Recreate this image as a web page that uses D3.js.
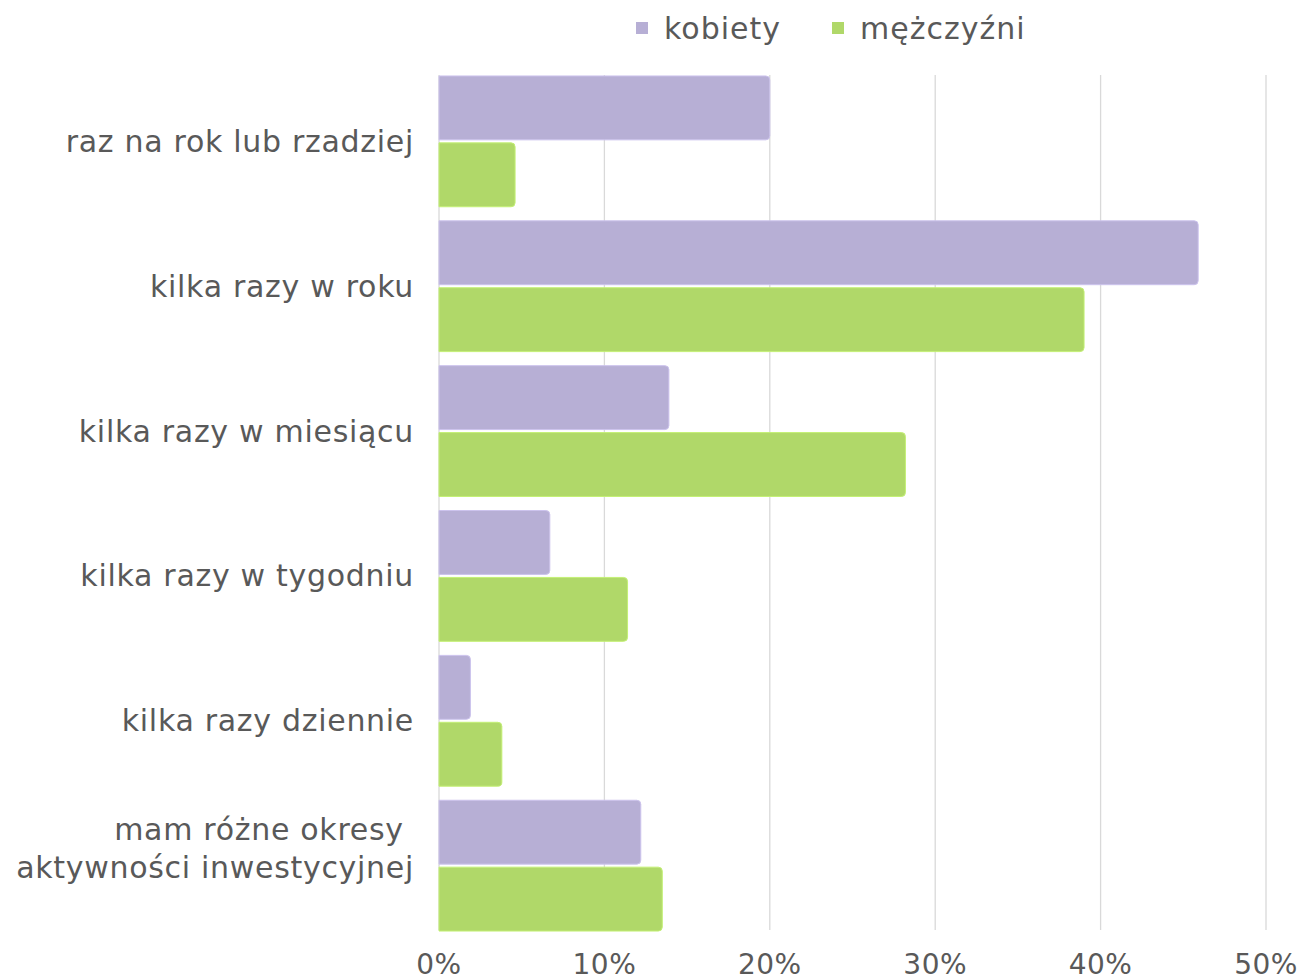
<!DOCTYPE html>
<html>
<head>
<meta charset="utf-8">
<script src="https://cdn.jsdelivr.net/npm/d3@7"></script>
<style>
  body { margin: 0; background: #fff; }
  svg text { font-family: "DejaVu Sans", sans-serif; fill: #595959; }
</style>
</head>
<body>
<script>
// data
const categories = [
  ["raz na rok lub rzadziej"],
  ["kilka razy w roku"],
  ["kilka razy w miesiącu"],
  ["kilka razy w tygodniu"],
  ["kilka razy dziennie"],
  ["mam różne okresy ", "aktywności inwestycyjnej"]
];
const seriesNames = ["kobiety", "mężczyźni"];
const kobiety   = [0.20, 0.459, 0.139, 0.067, 0.019, 0.122];
const mezczyzni = [0.046, 0.39, 0.282, 0.114, 0.038, 0.135];
const xTicks = [0, 0.1, 0.2, 0.3, 0.4, 0.5];
const colors = ["#b7afd5", "#b0d869"];

const width = 1302, height = 980;
const margin = { left: 439, right: 36, top: 69, bottom: 42 };

const svg = d3.select("body").append("svg")
    .attr("width", width)
    .attr("height", height);

const x = d3.scaleLinear()
    .domain([0, 0.5])
    .range([margin.left, width - margin.right]);

const y = d3.scaleBand()
    .domain(d3.range(categories.length))
    .range([margin.top, height - margin.bottom])
    .paddingInner(0.097)
    .paddingOuter(0.048);

const ySub = d3.scaleBand()
    .domain([0, 1])
    .range([0, y.bandwidth()])
    .paddingInner(0.045);

// grid
svg.append("g").selectAll("line")
    .data(xTicks)
  .enter().append("line")
    .attr("x1", d => x(d)).attr("x2", d => x(d))
    .attr("y1", 75).attr("y2", 930)
    .attr("stroke", "#d9d9d9")
    .attr("stroke-width", 1.3);

// bars
const rows = categories.map((c, i) => [kobiety[i], mezczyzni[i]]);
const groups = svg.append("g").selectAll("g")
    .data(rows)
  .enter().append("g")
    .attr("transform", (d, i) => "translate(0," + y(i) + ")");

function barPath(x0, x1, y0, h, r) {
  return "M" + x0 + "," + y0 +
    "H" + (x1 - r) +
    "Q" + x1 + "," + y0 + " " + x1 + "," + (y0 + r) +
    "V" + (y0 + h - r) +
    "Q" + x1 + "," + (y0 + h) + " " + (x1 - r) + "," + (y0 + h) +
    "H" + x0 + "Z";
}

groups.selectAll("path")
    .data(d => d)
  .enter().append("path")
    .attr("d", (d, j) => barPath(x(0), x(d), ySub(j), ySub.bandwidth(), 4))
    .attr("fill", (d, j) => colors[j])
    .attr("stroke", (d, j) => d3.color(colors[j]).brighter(0.3))
    .attr("stroke-width", 1);

// category labels
const labels = svg.append("g").selectAll("text")
    .data(categories)
  .enter().append("text")
    .attr("text-anchor", "end")
    .attr("font-size", 30)
    .attr("letter-spacing", 0.7)
    .attr("x", 414)
    .attr("y", (d, i) => y(i) + y.bandwidth() / 2);

labels.each(function(lines) {
  const t = d3.select(this);
  const offs = lines.length === 1 ? [0] : [-36, 2];
  lines.forEach((l, k) => {
    t.append("tspan")
      .attr("x", 414)
      .attr("dy", k === 0 ? offs[0] : offs[1] - offs[0])
      .attr("dominant-baseline", "central")
      .style("white-space", "pre")
      .text(l);
  });
});

// x axis labels
svg.append("g").selectAll("text")
    .data(xTicks)
  .enter().append("text")
    .attr("x", d => x(d))
    .attr("y", 964)
    .attr("text-anchor", "middle")
    .attr("dominant-baseline", "central")
    .attr("font-size", 28)
    .attr("letter-spacing", 0.5)
    .text(d => d3.format(".0%")(d));

// legend
const legendX = [636, 832];
const legend = svg.append("g").selectAll("g")
    .data(seriesNames)
  .enter().append("g")
    .attr("transform", (d, i) => "translate(" + legendX[i] + ",0)");
legend.append("rect")
    .attr("x", 0).attr("y", 22)
    .attr("width", 12).attr("height", 12)
    .attr("fill", (d, i) => colors[i]);
legend.append("text")
    .attr("x", 28).attr("y", 28)
    .attr("dominant-baseline", "central")
    .attr("font-size", 30)
    .attr("letter-spacing", 1)
    .text(d => d);
</script>
</body>
</html>
